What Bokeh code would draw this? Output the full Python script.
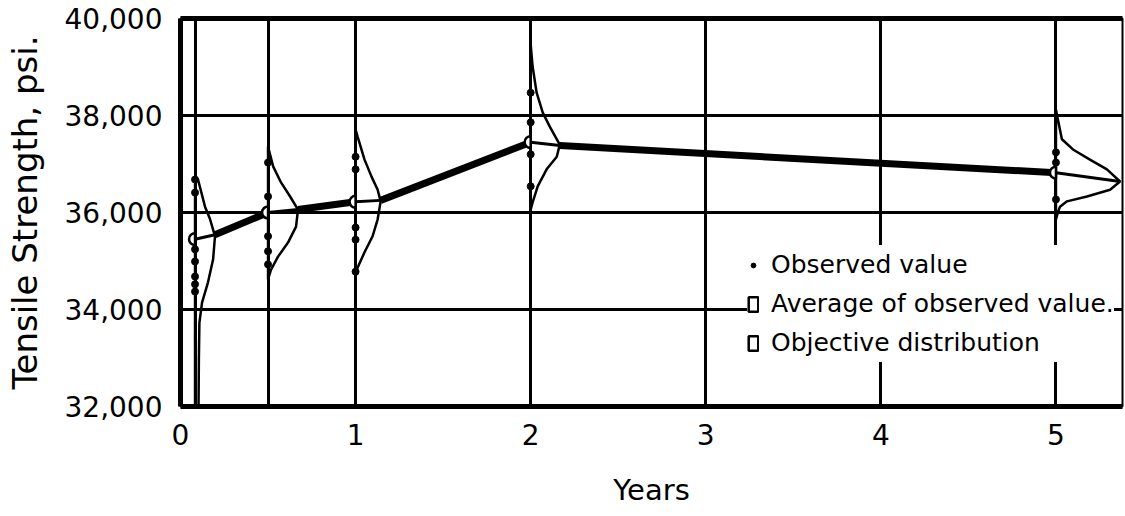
import math
from bokeh.plotting import figure
from bokeh.models import (FixedTicker, NumeralTickFormatter, LinearAxis, Legend,
                          LegendItem, Range1d)
from bokeh.embed import file_html
from bokeh.resources import INLINE

# ---------------- data ----------------
obs_years = [0.083, 0.5, 1.0, 2.0, 5.0]
observed_values = [
    [36680, 36410, 35240, 34990, 34680, 34520, 34370],
    [37030, 36330, 35510, 35200, 34930],
    [37150, 36890, 35690, 35440, 34780],
    [38470, 37860, 37200, 36540],
    [37240, 37030, 36270],
]
average_values = [35450, 36000, 36220, 37450, 36820]
# objective distribution: peak offset (years) right of the observation line, and its mean
objective_offsets = [0.114, 0.171, 0.143, 0.166, 0.366]
objective_means = [35540, 36060, 36250, 37380, 36640]
# outline of each objective distribution: strength levels and horizontal extent (years)
dist_strength = [
    [36740, 36680, 36120, 35860, 35510, 35030, 34560, 34140, 33730, 32970, 32000, 32000],
    [37360, 36950, 36620, 36330, 36060, 35710, 35380, 35090, 34820, 34620],
    [37710, 37570, 37090, 36740, 36470, 36230, 35860, 35510, 35180, 34820, 34660],
    [39460, 39010, 38470, 38060, 37770, 37400, 37150, 36890, 36540, 36210, 36060],
    [38120, 37920, 37510, 37300, 37090, 36890, 36640, 36470, 36330, 36230, 36120, 36000, 35860],
]
dist_width = [
    [0.0, 0.017, 0.057, 0.086, 0.114, 0.103, 0.074, 0.040, 0.025, 0.022, 0.020, 0.0],
    [0.0, 0.029, 0.074, 0.126, 0.171, 0.160, 0.114, 0.057, 0.017, 0.0],
    [0.0, 0.011, 0.051, 0.091, 0.126, 0.143, 0.126, 0.097, 0.051, 0.006, 0.0],
    [0.0, 0.011, 0.034, 0.069, 0.109, 0.166, 0.149, 0.091, 0.040, 0.011, 0.0],
    [0.0, 0.011, 0.034, 0.097, 0.194, 0.291, 0.366, 0.309, 0.177, 0.063, 0.023, 0.011, 0.0],
]
x_ticks = [0, 1, 2, 3, 4, 5]
x_grid_lines = obs_years + [3, 4]
y_ticks = [32000, 34000, 36000, 38000, 40000]
y_grid_lines = [34000, 36000, 38000]

FONT = "DejaVu Sans"

# ---------------- figure ----------------
p = figure(width=1125, height=514, x_range=Range1d(0, 5.38), y_range=Range1d(32000, 40000),
           output_backend="svg", toolbar_location=None,
           min_border_left=180, min_border_right=3, min_border_top=18, min_border_bottom=108,
           x_axis_label="Years", y_axis_label="Tensile Strength, psi.")
p.background_fill_color = "white"
p.border_fill_color = "white"
p.outline_line_color = "black"
p.outline_line_width = 2

# grid
p.xgrid.ticker = FixedTicker(ticks=x_grid_lines)
p.ygrid.ticker = FixedTicker(ticks=y_grid_lines)
for g in (p.xgrid, p.ygrid):
    g.grid_line_color = "black"
    g.grid_line_width = 3
    g.grid_line_alpha = 1

# axes
p.xaxis.ticker = FixedTicker(ticks=x_ticks)
p.yaxis.ticker = FixedTicker(ticks=y_ticks)
p.yaxis.formatter = NumeralTickFormatter(format="0,0")
for ax in (p.xaxis, p.yaxis):
    ax.axis_line_width = 5
    ax.axis_line_color = "black"
    ax.major_tick_line_color = None
    ax.minor_tick_line_color = None
    ax.major_label_text_font = FONT
    ax.major_label_text_font_size = "28px"
    ax.major_label_text_color = "black"
    ax.axis_label_text_font = FONT
    ax.axis_label_text_font_style = "normal"
    ax.axis_label_text_color = "black"
p.xaxis.major_label_standoff = 11
p.yaxis.major_label_standoff = 12
p.xaxis.axis_label_text_font_size = "29px"
p.yaxis.axis_label_text_font_size = "34px"
p.xaxis.axis_label_standoff = 25
p.yaxis.axis_label_standoff = 17

top_axis = LinearAxis(ticker=FixedTicker(ticks=[]), axis_line_width=5, axis_line_color="black",
                      major_tick_line_color=None, minor_tick_line_color=None,
                      major_label_standoff=0, major_label_text_font_size="0px")
p.add_layout(top_axis, "above")

# objective distributions
dist_xs = [[ox + w for w in ws] for ox, ws in zip(obs_years, dist_width)]
r_dist = p.patches(xs=dist_xs, ys=dist_strength, fill_color=None, line_color="black", line_width=2.5)

# trend lines
peak_x = [ox + off for ox, off in zip(obs_years, objective_offsets)]
r_thin = p.segment(x0=obs_years, y0=average_values, x1=peak_x, y1=objective_means,
                   line_color="black", line_width=3)
r_thick = p.segment(x0=peak_x[:-1], y0=objective_means[:-1], x1=obs_years[1:], y1=average_values[1:],
                    line_color="black", line_width=7)

# observed values
dot_x = [ox for ox, vals in zip(obs_years, observed_values) for _ in vals]
dot_y = [v for vals in observed_values for v in vals]
r_obs = p.scatter(x=dot_x, y=dot_y, size=7, color="black")

# averages (half circle left of the line)
r_avg = p.wedge(x=obs_years, y=average_values, radius=6, radius_units="screen",
                start_angle=math.pi / 2, end_angle=3 * math.pi / 2,
                fill_color="white", line_color="black", line_width=2.5)

legend = Legend(items=[LegendItem(label="Observed value", renderers=[r_obs]),
                       LegendItem(label="Average of observed value.", renderers=[r_avg]),
                       LegendItem(label="Objective distribution", renderers=[r_dist])],
                location=(567, 44), label_text_font=FONT, label_text_font_size="25px",
                label_text_color="black", glyph_width=12, glyph_height=18, label_height=39,
                spacing=0, padding=10, margin=0, border_line_color=None,
                background_fill_color="white", background_fill_alpha=1, label_standoff=12)
p.add_layout(legend)

open("out.html", "w").write(file_html(p, INLINE))
